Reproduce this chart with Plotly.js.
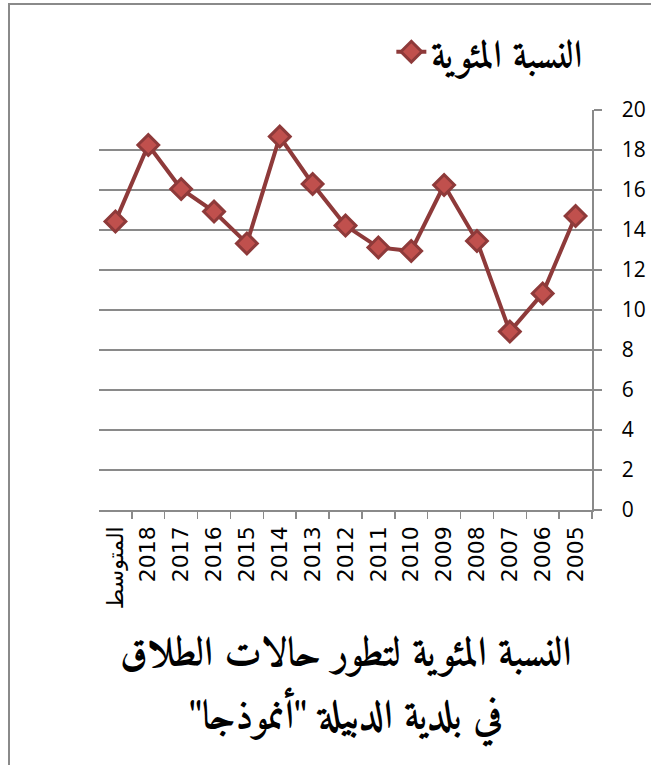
<!DOCTYPE html>
<html>
<head>
<meta charset="utf-8">
<script src="https://cdn.plot.ly/plotly-3.0.1.min.js"></script>
<style>
  html, body { margin: 0; padding: 0; background: #fff; }
  #frame { position: absolute; left: 8px; top: 3px; width: 700px; height: 800px;
           border-left: 2px solid #8a8a8a; border-top: 2px solid #8a8a8a; pointer-events: none; z-index: 2; }
  #chart { position: absolute; left: 0; top: 0; width: 651px; height: 765px; }
</style>
</head>
<body>
<div id="chart"></div>
<div id="frame"></div>
<script>
const categories = ['2005','2006','2007','2008','2009','2010','2011','2012','2013','2014','2015','2016','2017','2018','المتوسط'];
const percentValues = [14.7, 10.83, 8.92, 13.45, 16.25, 12.95, 13.13, 14.22, 16.3, 18.67, 13.33, 14.92, 16.05, 18.25, 14.43];
const yTicks = [0, 2, 4, 6, 8, 10, 12, 14, 16, 18, 20];
const seriesName = 'النسبة المئوية';
const titleLine1 = 'النسبة المئوية لتطور حالات الطلاق';
const titleLine2 = 'في بلدية الدبيلة "أنموذجا"';

const RLM = '\u200F';
const arabicFont = 'Amiri, "Noto Naskh Arabic", "DejaVu Sans", sans-serif';

const trace = {
  type: 'scatter',
  mode: 'lines+markers',
  x: categories,
  y: percentValues,
  name: '<b>' + seriesName + '</b>',
  line: { color: '#8e3a3a', width: 4 },
  marker: { symbol: 'diamond', size: 16, color: '#c0504d', line: { color: '#8e3a3a', width: 3 } },
  showlegend: true
};

const layout = {
  width: 651,
  height: 765,
  margin: { l: 99, r: 59, t: 110, b: 255 },
  paper_bgcolor: '#ffffff',
  plot_bgcolor: '#ffffff',
  showlegend: true,
  legend: {
    x: 0.593, y: 1.145, xanchor: 'left', yanchor: 'middle',
    font: { family: arabicFont, size: 38, color: '#000', weight: 'bold' },
    bgcolor: 'rgba(0,0,0,0)'
  },
  xaxis: {
    type: 'category',
    categoryorder: 'array',
    categoryarray: categories,
    range: [14.5, -0.5],
    tickson: 'boundaries',
    ticks: 'outside',
    ticklen: 7,
    tickcolor: '#8a8a8a',
    tickwidth: 1.5,
    showline: true,
    linecolor: '#8a8a8a',
    linewidth: 1.5,
    showgrid: false,
    tickangle: -90,
    tickfont: { family: '"DejaVu Sans", Arial, sans-serif', size: 22, color: '#000' },
    ticklabelstandoff: 6,
    fixedrange: true
  },
  yaxis: {
    side: 'right',
    range: [0, 20],
    tickvals: yTicks,
    ticktext: yTicks.map(String),
    ticks: 'outside',
    ticklen: 8,
    tickcolor: '#8a8a8a',
    tickwidth: 1.5,
    showline: true,
    linecolor: '#8a8a8a',
    linewidth: 1.5,
    showgrid: true,
    gridcolor: '#8a8a8a',
    gridwidth: 1.5,
    zeroline: false,
    tickfont: { family: '"Open Sans", "Liberation Sans", sans-serif', size: 21, color: '#000' },
    ticklabelstandoff: 16,
    fixedrange: true
  },
  annotations: [
    { xref: 'paper', yref: 'paper', x: 0.5, y: -0.3625, xanchor: 'center', yanchor: 'middle',
      text: '<b>' + RLM + titleLine1 + RLM + '</b>', showarrow: false,
      font: { family: arabicFont, size: 40, color: '#000', weight: 'bold' } },
    { xref: 'paper', yref: 'paper', x: 0.5, y: -0.52, xanchor: 'center', yanchor: 'middle',
      text: '<b>' + RLM + titleLine2 + RLM + '</b>', showarrow: false,
      font: { family: arabicFont, size: 40, color: '#000', weight: 'bold' } }
  ]
};

Plotly.newPlot('chart', [trace], layout, { displayModeBar: false, staticPlot: true });
</script>
</body>
</html>
